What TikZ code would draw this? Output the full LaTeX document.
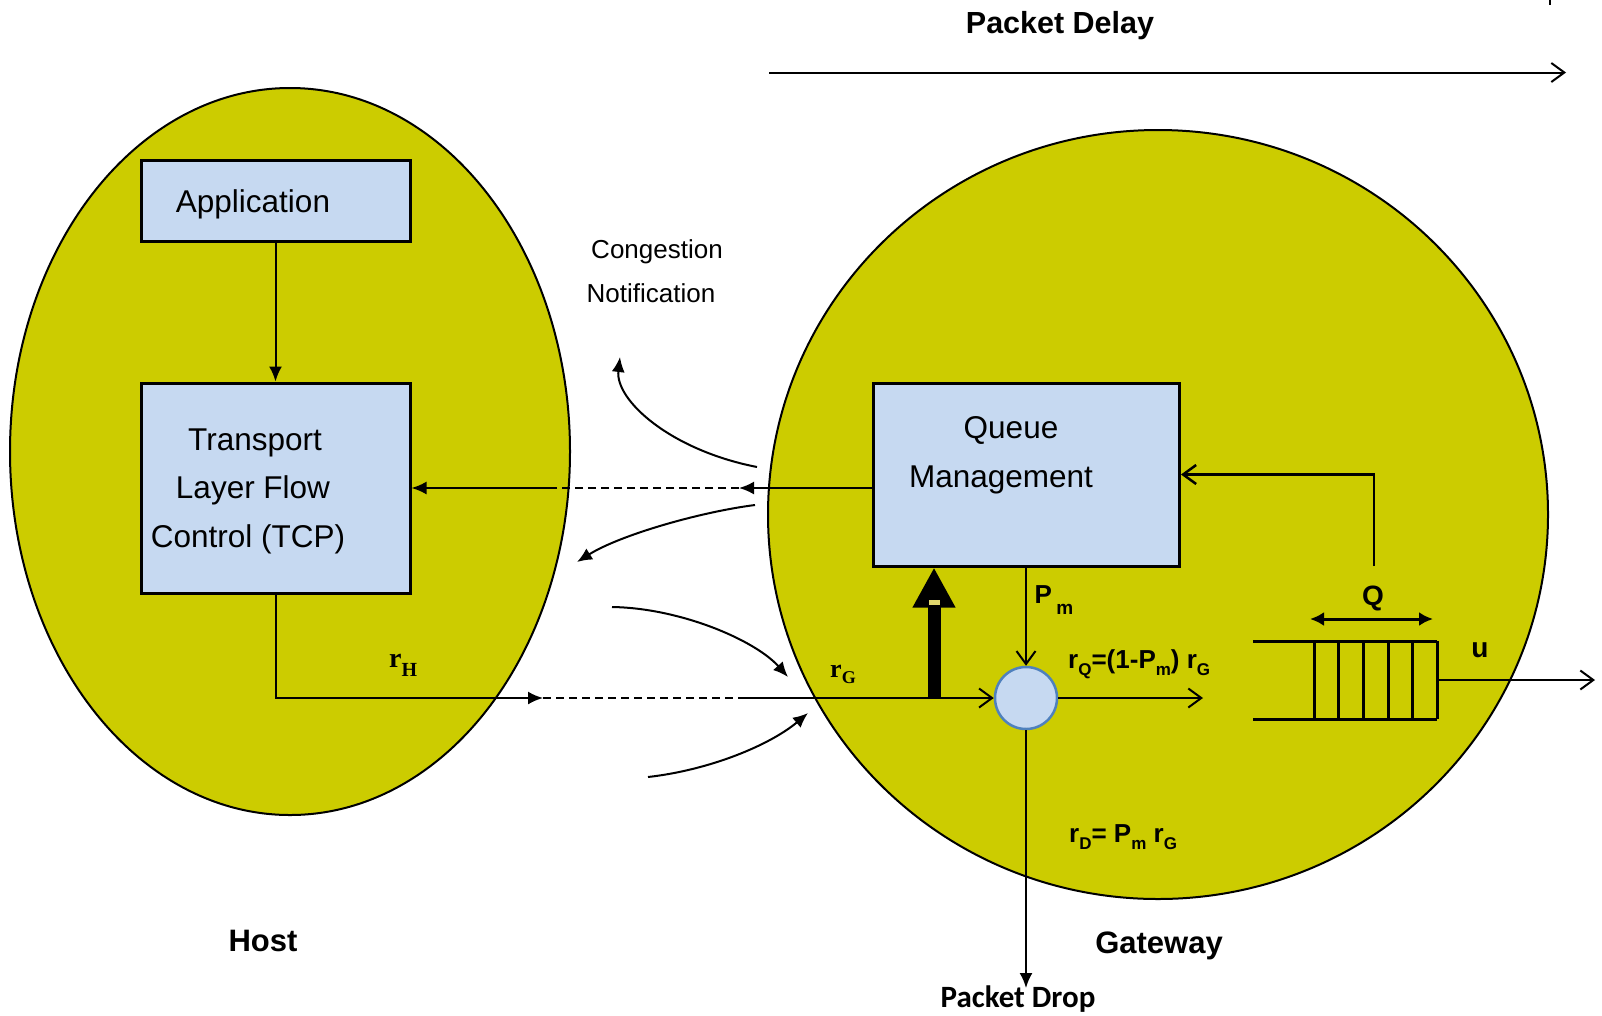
\documentclass[tikz,border=0pt]{standalone}
\usepackage{fontspec}
\setmainfont{Liberation Sans}
\newfontfamily\tnr{Liberation Serif}
\newfontfamily\carl{Carlito}
\usetikzlibrary{arrows.meta,shapes.geometric}
\definecolor{olivefill}{RGB}{204,204,0}
\definecolor{boxblue}{RGB}{198,217,241}
\definecolor{ringblue}{RGB}{79,129,189}
\definecolor{spotcol}{RGB}{225,215,110}
\newcommand{\sbx}[1]{\raisebox{-0.3em}{\fontsize{17}{17}\selectfont #1}}
\begin{document}
\begin{tikzpicture}[x=1pt,y=-1pt,
  ln/.style={line width=2pt},
  fhead/.style={-{Latex[length=15pt,width=13pt]}},
  ohead/.style={-{Straight Barb[length=13pt,width=19pt]}},
  blob/.style={ellipse, draw=black, line width=2pt, fill=olivefill, inner sep=0pt},
  blk/.style={rectangle, draw=black, line width=3pt, fill=boxblue, inner sep=0pt},
  reg/.style={inner sep=0pt, anchor=base, font=\fontsize{31.5}{38}\selectfont},
  regs/.style={inner sep=0pt, anchor=base, font=\fontsize{26}{30}\selectfont},
  bld/.style={inner sep=0pt, anchor=base, font=\fontsize{31}{36}\selectfont\bfseries},
  lbl/.style={inner sep=0pt, anchor=base, font=\fontsize{26}{30}\selectfont\bfseries},
  tms/.style={inner sep=0pt, anchor=base, font=\fontsize{28}{32}\selectfont\tnr\bfseries},
  qline/.style={line width=3pt},
  dsh/.style={line width=2pt, dash pattern=on 8pt off 5pt}
]
\fill[white] (0,0) rectangle (1602,1015);
\useasboundingbox (0,0) rectangle (1602,1015);

% ellipses
\node[blob, minimum width=560pt, minimum height=727pt] (host) at (290,451.5) {};
\node[blob, minimum width=780pt, minimum height=769pt] (gate) at (1158,514.5) {};

% boxes
\node[blk, minimum width=269pt, minimum height=81pt] (app) at (275.5,200.5) {};
\node[blk, minimum width=306pt, minimum height=183pt] (qm) at (1026.5,474.5) {};
\node[blk, minimum width=269pt, minimum height=210pt] (tcp) at (275.5,488) {};
\node[circle, draw=ringblue, fill=boxblue, line width=2.5pt, minimum size=62pt, inner sep=0pt] (mix) at (1026,698) {};

% box texts
\node[reg] (tApp) at (253,212) {Application};
\node[reg] (tT1) at (255,450) {Transport};
\node[reg] (tT2) at (253,498) {Layer Flow};
\node[reg] (tT3) at (248,547) {Control (TCP)};
\node[reg] (tQ1) at (1011,438) {Queue};
\node[reg] (tQ2) at (1001,487) {Management};

% other texts
\node[regs] (cong) at (657,258) {Congestion};
\node[regs] (noti) at (651,302) {Notification};
\node[bld] (hostlbl) at (263,951) {Host};
\node[bld] (gatelbl) at (1159,953) {Gateway};
\node[inner sep=0pt, anchor=base, font=\fontsize{31}{36}\selectfont\carl\bfseries] (droplbl) at (1018,1007) {Packet Drop};
\node[bld, font=\fontsize{30.5}{36}\selectfont\bfseries] (delaylbl) at (1060,33) {Packet Delay};
\node[lbl] (pmlbl) at (1054,603) {P\,\raisebox{-0.45em}{\fontsize{19}{19}\selectfont m}};
\node[lbl, anchor=base west] (rqlbl) at (1068,668) {r\sbx{Q}=(1-P\sbx{m}) r\sbx{G}};
\node[lbl, anchor=base west] (rdlbl) at (1069,842) {r\sbx{D}= P\sbx{m} r\sbx{G}};
\node[lbl, font=\fontsize{28}{32}\selectfont\bfseries] (qlbl) at (1373,605) {Q};
\node[lbl, font=\fontsize{28}{32}\selectfont\bfseries] (ulbl) at (1480,657) {u};
\node[tms, anchor=base west] (rhlbl) at (389,667) {r\raisebox{-9pt}{\fontsize{20}{20}\selectfont H}};
\node[tms, font=\fontsize{26}{30}\selectfont\tnr\bfseries, anchor=base west] (rglbl) at (830,677) {r\raisebox{-6pt}{\fontsize{18}{18}\selectfont G}};

% coordinates
\coordinate (cnA) at (739,488);
\coordinate (cnB) at (552,488);
\coordinate (rhA) at (543,698);
\coordinate (rhB) at (738,698);
\coordinate (rqEnd) at (1203,698);
\coordinate (dropEnd) at (1026,988);
\coordinate (fbStart) at (1374,566);
\coordinate (outStart) at (1437,680);
\coordinate (outEnd) at (1595,680);
\coordinate (qL) at (1310,619);
\coordinate (qR) at (1433,619);
\coordinate (dlA) at (769,72.5);
\coordinate (dlB) at (1566,72.5);
\coordinate (thick) at (934,697);
\coordinate (c1a) at (757,467); \coordinate (c1b) at (620,357);
\coordinate (c2a) at (755,505); \coordinate (c2b) at (577,562);
\coordinate (c3a) at (612,607); \coordinate (c3b) at (788,677);
\coordinate (c4a) at (648,777); \coordinate (c4b) at (808,713);

% connectors
\draw[ln, fhead] (app.south) -- (tcp.north);
\draw[ln, fhead] (qm.west |- tcp.east) -- (cnA);
\draw[dsh] (cnA) -- (cnB);
\draw[ln, fhead] (cnB) -- (tcp.east);

\draw[ln, fhead] (tcp.south) |- (rhA);
\draw[dsh] (rhA) -- (rhB);
\draw[ln, ohead] (rhB) -- (mix.west);

\draw[line width=13pt, -{Triangle[length=40pt,width=40pt]}] (thick) -- (qm.south -| thick);
\fill[spotcol] (928.5,600) rectangle (939.5,605);

\draw[ln, ohead] (qm.south -| mix) -- (mix.north);
\draw[ln, ohead] (mix.east) -- (rqEnd);
\draw[ln, fhead] (mix.south) -- (dropEnd);
\draw[line width=2.5pt, ohead] (fbStart) |- (qm.east);

% queue
\draw[qline] (1253,641) -- (1437,641);
\draw[qline] (1253,719) -- (1437,719);
\foreach \xx in {1314,1338,1363,1388,1412,1437} {\draw[qline] (\xx,641) -- (\xx,719);}
\draw[ln, ohead] (outStart) -- (outEnd);
\draw[qline, {Latex[length=14pt,width=14pt]}-{Latex[length=14pt,width=14pt]}] (qL) -- (qR);

% packet delay arrow
\draw[ln, ohead] (dlA) -- (dlB);
\draw[line width=1.5pt] (1550,0) -- (1550,5);

% curved arrows
\draw[ln, fhead] (c1a) .. controls (670,450) and (615,400) .. (c1b);
\draw[ln, fhead] (c2a) .. controls (700,512) and (620,535) .. (c2b);
\draw[ln, fhead] (c3a) .. controls (680,608) and (755,640) .. (c3b);
\draw[ln, fhead] (c4a) .. controls (710,770) and (770,745) .. (c4b);
\end{tikzpicture}
\end{document}
